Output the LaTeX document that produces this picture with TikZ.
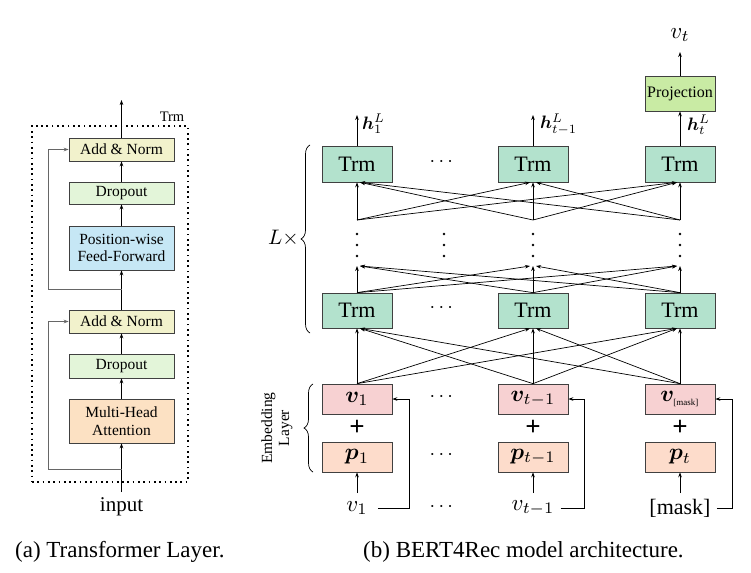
\documentclass[tikz,border=0pt]{standalone}
\usepackage{amsmath,bm,graphicx}
\usepackage{fontspec}
\setmainfont{Liberation Serif}
\usetikzlibrary{arrows.meta,decorations.pathreplacing}
\definecolor{cAN}{HTML}{F2F2CC}
\definecolor{cDO}{HTML}{E3F5D9}
\definecolor{cFF}{HTML}{C6E7F5}
\definecolor{cMH}{HTML}{FCE1C3}
\definecolor{cTR}{HTML}{B3E2CD}
\definecolor{cPR}{HTML}{C9EBA4}
\definecolor{cV}{HTML}{F7D1D2}
\definecolor{cP}{HTML}{FDDCCB}
\newcommand{\mth}[2]{\scalebox{#1}{\fontsize{10}{12}\selectfont$#2$}}
\begin{document}
\begin{tikzpicture}[x=1pt,y=-1pt,
  box/.style={draw=black!75, line width=0.7pt, inner sep=0pt, align=center},
  lbox/.style={box, minimum width=105pt, font=\fontsize{15.5}{17.7}\selectfont},
  rbox/.style={box, minimum width=70pt, font=\fontsize{22}{24}\selectfont},
  arr/.style={-{Stealth[length=5pt,width=3.6pt]}, line width=0.7pt},
  res/.style={arr, draw=black!60},
  plain/.style={line width=0.7pt},
  big/.style={font=\fontsize{22}{24}\selectfont, inner sep=0pt},
  dotbox/.style={draw, line width=1.7pt, dash pattern=on 1.7pt off 3.6pt, minimum width=156pt, minimum height=356pt, inner sep=0pt},
  vdot/.style={fill=black, draw=none}
]
\useasboundingbox (0,0) rectangle (751,572);

% ---------------- (a) Transformer layer ----------------
\node[dotbox] (trmbox) at (110,304) {};
\node[font=\fontsize{14.5}{16}\selectfont, inner sep=0pt] (trml) at (172,117) {Trm};
\node[lbox, fill=cAN, minimum height=23pt] (an2) at (121.5,149.5) {Add \& Norm};
\node[lbox, fill=cDO, minimum height=22pt] (do2) at (121.5,193) {Dropout};
\node[lbox, fill=cFF, minimum height=44pt] (ff) at (121.5,248) {Position-wise\\Feed-Forward};
\node[lbox, fill=cAN, minimum height=23pt] (an1) at (121.5,321.5) {Add \& Norm};
\node[lbox, fill=cDO, minimum height=24pt] (do1) at (121.5,366) {Dropout};
\node[lbox, fill=cMH, minimum height=44pt] (mha) at (121.5,421) {Multi-Head\\Attention};
\node[font=\fontsize{21}{23}\selectfont, inner sep=0pt] (inp) at (121.5,507) {input};
\coordinate (inb) at (121.5,492);
\coordinate (outt) at (121.5,100);
\coordinate (r1) at (121.5,469);
\coordinate (r2) at (121.5,289);
\draw[arr] (inb) -- (mha.south);
\draw[arr] (mha) -- (do1);
\draw[arr] (do1) -- (an1);
\draw[arr] (an1) -- (ff);
\draw[arr] (ff) -- (do2);
\draw[arr] (do2) -- (an2);
\draw[arr] (an2) -- (outt);
\draw[res] (r1) -- ++(-73.5,0) |- (an1.west);
\draw[res] (r2) -- ++(-73.5,0) |- (an2.west);

% ---------------- (b) BERT4Rec ----------------
\foreach \i/\x in {1/357,2/533,3/680}{
  \node[rbox, fill=cTR, minimum height=36pt] (tt\i) at (\x,164) {Trm};
  \node[rbox, fill=cTR, minimum height=35pt] (tb\i) at (\x,310.5) {Trm};
  \coordinate (s\i) at (\x,220);
  \coordinate (m\i) at (\x,266);
}
\foreach \x in {357,444,533,680}{
  \foreach \y in {234,245,256}{
    \fill[vdot] (\x,\y) circle (1.3pt);
  }
}
\node[rbox, fill=cV, minimum height=30pt] (v1) at (357,399) {\mth{2.3}{\bm{v}_1}};
\node[rbox, fill=cV, minimum height=30pt] (v2) at (533,399) {\mth{2.3}{\bm{v}_{t-1}}};
\node[rbox, fill=cV, minimum height=30pt] (v3) at (680,399) {\mth{2.3}{\bm{v}_{\mbox{\fontsize{3.9}{4}\selectfont[mask]}}}};
\node[rbox, fill=cP, minimum height=30pt] (p1) at (357,457) {\mth{2.3}{\bm{p}_1}};
\node[rbox, fill=cP, minimum height=30pt] (p2) at (533,457) {\mth{2.3}{\bm{p}_{t-1}}};
\node[rbox, fill=cP, minimum height=30pt] (p3) at (680,457) {\mth{2.3}{\bm{p}_t}};
\foreach \i/\x in {1/357,2/533,3/680}{
  \node[font=\fontsize{27}{27}\selectfont\bfseries, inner sep=0pt] (plus\i) at (\x,428) {+};
  \coordinate (a\i) at (\x,493);
  \draw[arr] (a\i) -- (p\i.south);
}
\node[inner sep=0pt] (in1) at (357,508) {\mth{2.3}{v_1}};
\node[inner sep=0pt] (in2) at (533,508) {\mth{2.3}{v_{t-1}}};
\node[big] (in3) at (680,508) {[mask]};
\draw[arr] ([xshift=10pt]in1.east) -| ([xshift=17pt]v1.east) -- (v1.east);
\draw[arr] ([xshift=6pt]in2.east) -| ([xshift=16pt]v2.east) -- (v2.east);
\draw[arr] ([xshift=6pt]in3.east) -| ([xshift=17pt]v3.east) -- (v3.east);

% connections
\foreach \i in {1,2,3}{
  \foreach \j in {1,2,3}{
    \pgfmathsetmacro{\off}{3*sign(\i-\j)}
    \draw[arr] (v\i.north) -- ([xshift=\off pt]tb\j.south);
    \draw[arr] (tb\i.north) -- ([xshift=\off pt]m\j);
    \draw[arr] (s\i) -- ([xshift=\off pt]tt\j.south);
  }
}

% outputs
\coordinate (o1) at (357,115);
\coordinate (o2) at (533,115);
\draw[arr] (tt1) -- (o1);
\draw[arr] (tt2) -- (o2);
\node[rbox, fill=cPR, minimum height=35pt, font=\fontsize{16}{18}\selectfont] (proj) at (680,93.5) {Projection};
\draw[arr] (tt3) -- (proj);
\coordinate (o3) at (680,52);
\draw[arr] (proj) -- (o3);
\node[inner sep=0pt] (vt) at (680,35) {\mth{2.3}{v_t}};
\node[inner sep=0pt, anchor=west] (h1) at (362,124) {\mth{1.8}{\bm{h}_1^L}};
\node[inner sep=0pt, anchor=west] (h2) at (540,124) {\mth{1.8}{\bm{h}_{t-1}^L}};
\node[inner sep=0pt, anchor=west] (h3) at (687,125) {\mth{1.8}{\bm{h}_t^L}};

% dots
\foreach \y/\n in {162/a,308/b,397/c,455/d,507/e}{
  \node[inner sep=0pt] (cd\n) at (443,\y) {\mth{2}{\cdots}};
}

% braces
\draw[plain, decorate, decoration={brace, amplitude=9pt}] (310,333) -- (310,145);
\node[inner sep=0pt, anchor=east] (lx) at (299,238) {\mth{2.1}{L{\times}}};
\draw[plain, decorate, decoration={brace, amplitude=9pt}] (313,472) -- (313,384);
\node[rotate=90, align=center, font=\fontsize{15.5}{17}\selectfont, inner sep=0pt] (emb) at (277,428) {Embedding\\Layer};

% captions
\node[font=\fontsize{23}{25}\selectfont, inner sep=0pt, anchor=west] (capa) at (15,552) {(a) Transformer Layer.};
\node[font=\fontsize{23}{25}\selectfont, inner sep=0pt, anchor=west] (capb) at (363,552) {(b) BERT4Rec model architecture.};
\end{tikzpicture}
\end{document}
